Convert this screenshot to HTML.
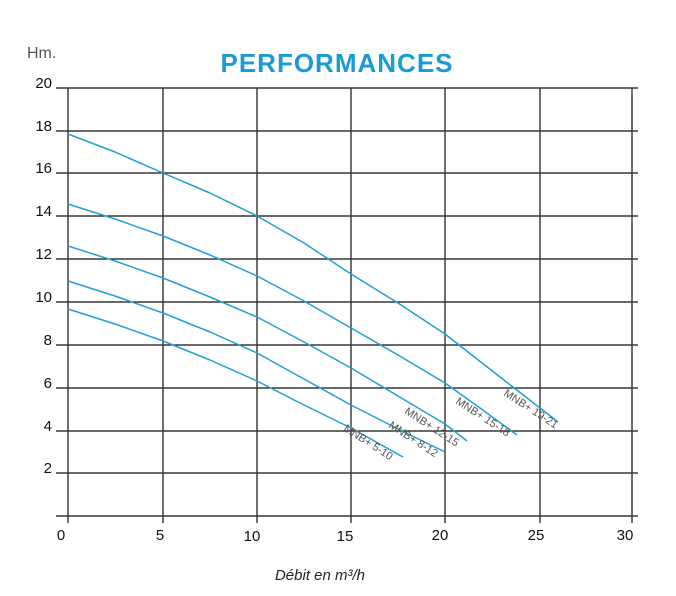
<!DOCTYPE html>
<html><head><style>body{margin:0;background:#fff}svg{display:block}</style></head><body>
<svg width="676" height="596" viewBox="0 0 676 596" font-family="Liberation Sans, sans-serif">
<text x="27" y="58" font-size="16" fill="#555">Hm.</text>
<text x="337" y="72" font-size="26" font-weight="bold" fill="#1a9ad6" text-anchor="middle" letter-spacing="1">PERFORMANCES</text>
<g stroke="#111" stroke-width="1.2">
<line x1="56" y1="88" x2="638" y2="88"/><line x1="56" y1="131" x2="638" y2="131"/><line x1="56" y1="173" x2="638" y2="173"/><line x1="56" y1="216" x2="638" y2="216"/><line x1="56" y1="259" x2="638" y2="259"/><line x1="56" y1="302" x2="638" y2="302"/><line x1="56" y1="345" x2="638" y2="345"/><line x1="56" y1="388" x2="638" y2="388"/><line x1="56" y1="431" x2="638" y2="431"/><line x1="56" y1="473" x2="638" y2="473"/><line x1="56" y1="516" x2="638" y2="516"/>
</g>
<g stroke="#333" stroke-width="1.4">
<line x1="68" y1="88" x2="68" y2="523"/><line x1="163" y1="88" x2="163" y2="523"/><line x1="257" y1="88" x2="257" y2="523"/><line x1="351" y1="88" x2="351" y2="523"/><line x1="445" y1="88" x2="445" y2="523"/><line x1="540" y1="88" x2="540" y2="523"/><line x1="632" y1="88" x2="632" y2="523"/>
</g>
<g font-size="15" fill="#111" text-anchor="end">
<text x="52" y="88">20</text><text x="52" y="131">18</text><text x="52" y="173">16</text><text x="52" y="216">14</text><text x="52" y="259">12</text><text x="52" y="302">10</text><text x="52" y="345">8</text><text x="52" y="388">6</text><text x="52" y="431">4</text><text x="52" y="473">2</text>
</g>
<g font-size="15" fill="#111" text-anchor="middle">
<text x="61" y="540">0</text><text x="160" y="540">5</text><text x="252" y="541">10</text><text x="345" y="541">15</text><text x="440" y="540">20</text><text x="536" y="540">25</text><text x="625" y="540">30</text>
</g>
<text x="320" y="580" font-size="15" font-style="italic" fill="#222" text-anchor="middle">Débit en m³/h</text>
<g fill="none" stroke="#1ea0d8" stroke-width="1.5" stroke-linejoin="round">
<polyline points="68,134 115,152 163,173 210,193 257,216 304,243 351,274 398,303 445,334 500,377 558,422"/>
<polyline points="68,204 115,219 163,236 210,255 257,276 304,301 351,328 398,355 445,383 480,408 517,435"/>
<polyline points="68,246 115,261 163,278 210,297 257,317 304,342 351,368 398,396 445,424 467,441"/>
<polyline points="68,281 115,296 163,313 210,332 257,353 304,379 351,405 398,429 445,452"/>
<polyline points="68,309 115,324 163,341 210,360 257,381 304,405 351,428 403,457"/>
</g>
<g font-size="11" fill="#555">
<text transform="translate(503,395) rotate(33)">MNB+ 19-21</text>
<text transform="translate(455,403) rotate(33)">MNB+ 15-18</text>
<text transform="translate(404,413) rotate(33)">MNB+ 12-15</text>
<text transform="translate(388,427) rotate(33)">MNB+ 8-12</text>
<text transform="translate(343,430) rotate(33)">MNB+ 5-10</text>
</g>
</svg>
</body></html>
